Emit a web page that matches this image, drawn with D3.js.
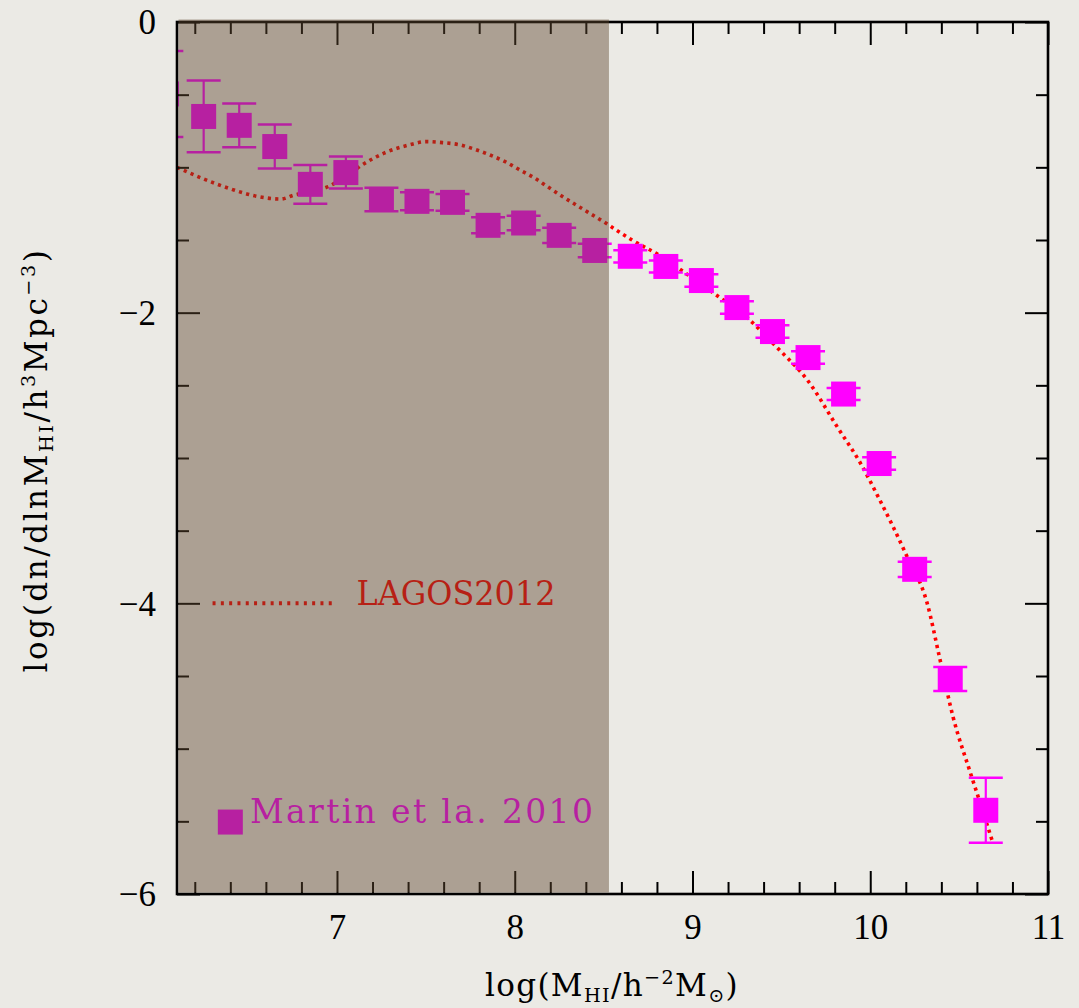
<!DOCTYPE html>
<html>
<head>
<meta charset="utf-8">
<script src="https://cdn.jsdelivr.net/npm/d3@7"></script>
<style>
  html, body { margin: 0; padding: 0; background: #ebeae5; }
  svg { display: block; }
</style>
</head>
<body>
<div id="chart"></div>
<script>
// HI mass function data (Martin et al. 2010)
const massBins = [6.04, 6.25, 6.45, 6.65, 6.85, 7.05, 7.25, 7.45, 7.65, 7.85, 8.05, 8.25,
                  8.45, 8.65, 8.85, 9.05, 9.25, 9.45, 9.65, 9.85, 10.05, 10.25, 10.45, 10.65];
const logPhi = [-0.495, -0.650, -0.711, -0.857, -1.117, -1.036, -1.221, -1.234, -1.241, -1.399, -1.383, -1.468,
                -1.572, -1.612, -1.682, -1.779, -1.965, -2.130, -2.309, -2.560, -3.038, -3.766, -4.521, -5.424];
const logPhiErr = [0.296, 0.247, 0.151, 0.151, 0.133, 0.110, 0.081, 0.062, 0.057, 0.055, 0.050, 0.053,
                   0.047, 0.042, 0.041, 0.043, 0.043, 0.043, 0.043, 0.041, 0.043, 0.052, 0.083, 0.224];

// LAGOS2012 model curve
const lagosMass = [6.10, 6.25, 6.42, 6.55, 6.685, 6.76, 6.86, 6.95, 7.06, 7.15, 7.275, 7.406, 7.50, 7.594,
                   7.687, 7.771, 7.861, 7.946, 8.028, 8.108, 8.187, 8.264, 8.343, 8.423, 8.502, 8.577, 8.66,
                   8.82, 9.006, 9.118, 9.309, 9.478, 9.646, 9.815, 9.944, 10.045, 10.208, 10.32, 10.393,
                   10.466, 10.562, 10.635, 10.69];
const lagosPhi = [-1.00, -1.08, -1.156, -1.20, -1.218, -1.19, -1.168, -1.133, -1.053, -0.977, -0.897, -0.846,
                  -0.823, -0.830, -0.844, -0.874, -0.915, -0.961, -1.018, -1.071, -1.135, -1.197, -1.257,
                  -1.317, -1.376, -1.436, -1.50, -1.61, -1.768, -1.865, -2.037, -2.243, -2.463, -2.787,
                  -3.034, -3.268, -3.681, -3.998, -4.39, -4.782, -5.161, -5.436, -5.649];

// axes
const xDomain = [6.1, 11];
const yDomain = [0, -6];
const xMajorTicks = [7, 8, 9, 10, 11];
const yMajorTicks = [0, -2, -4, -6];
const shadeLimit = 8.53;   // mass resolution limit of the model

// legend entries
const legendNames = ["LAGOS2012", "Martin et la. 2010"];

const width = 1079, height = 1008;
const margin = { top: 22, right: 31, bottom: 114, left: 177 };

const svg = d3.select("#chart").append("svg")
    .attr("width", width)
    .attr("height", height);

svg.append("rect")
    .attr("width", width).attr("height", height)
    .attr("fill", "#ebeae5");

const x = d3.scaleLinear().domain(xDomain).range([margin.left, width - margin.right]);
const y = d3.scaleLinear().domain(yDomain).range([margin.top, height - margin.bottom]);

svg.append("clipPath").attr("id", "plotClip")
    .append("rect")
    .attr("x", margin.left).attr("y", margin.top)
    .attr("width", width - margin.left - margin.right)
    .attr("height", height - margin.top - margin.bottom);

const plot = svg.append("g").attr("clip-path", "url(#plotClip)");

//model curve
const magenta = "#ff00ff";
const red = "#ff0000";
const lagosLine = d3.line()
    .x(d => x(d[0]))
    .y(d => y(d[1]))
    .curve(d3.curveMonotoneX);

plot.append("path")
    .datum(d3.zip(lagosMass, lagosPhi))
    .attr("d", lagosLine)
    .attr("fill", "none")
    .attr("stroke", red)
    .attr("stroke-width", 3.6)
    .attr("stroke-dasharray", "3.2,4.2");

//data points with error bars
const pts = massBins.map((m, i) => ({ m: m, v: logPhi[i], e: logPhiErr[i] }));
const sq = 25, capHalf = 17;

const pg = plot.selectAll("g.pt").data(pts).join("g").attr("class", "pt");
pg.append("line")
    .attr("x1", d => x(d.m)).attr("x2", d => x(d.m))
    .attr("y1", d => y(d.v + d.e)).attr("y2", d => y(d.v - d.e))
    .attr("stroke", magenta).attr("stroke-width", 2.2);
pg.selectAll("line.cap")
    .data(d => [[d.m, d.v + d.e], [d.m, d.v - d.e]])
    .join("line").attr("class", "cap")
    .attr("x1", d => x(d[0]) - capHalf).attr("x2", d => x(d[0]) + capHalf)
    .attr("y1", d => y(d[1])).attr("y2", d => y(d[1]))
    .attr("stroke", magenta).attr("stroke-width", 2.5);
pg.append("rect")
    .attr("x", d => x(d.m) - sq / 2).attr("y", d => y(d.v) - sq / 2)
    .attr("width", sq).attr("height", sq)
    .attr("fill", magenta);

//legend
const legendFont = "'DejaVu Serif', serif";
svg.append("line")
    .attr("x1", x(6.30)).attr("x2", x(7.0))
    .attr("y1", y(-4)).attr("y2", y(-4))
    .attr("stroke", red).attr("stroke-width", 4)
    .attr("stroke-dasharray", "3,5.3");
svg.append("text")
    .attr("x", x(7.11)).attr("y", y(-4) + 2)
    .attr("font-family", legendFont).attr("font-size", 33)
    .attr("fill", red)
    .attr("textLength", 199).attr("lengthAdjust", "spacingAndGlyphs")
    .text(legendNames[0]);

svg.append("rect")
    .attr("x", x(6.40) - sq / 2).attr("y", y(-5.505) - sq / 2)
    .attr("width", sq).attr("height", sq)
    .attr("fill", magenta);
svg.append("text")
    .attr("x", x(6.51)).attr("y", y(-5.505) + 1)
    .attr("font-family", legendFont).attr("font-size", 33)
    .attr("fill", magenta)
    .attr("textLength", 343).attr("lengthAdjust", "spacing")
    .text(legendNames[1]);

//axes - ticks point inward on all four sides
const tickFont = "'Liberation Serif', 'Times New Roman', serif";
const xMinor = d3.range(62, 111, 2).map(v => v / 10).filter(v => !xMajorTicks.includes(v));
const yMinor = d3.range(-11, 0, 1).map(v => v / 2).filter(v => !yMajorTicks.includes(v));

function drawAxis(axisFn, scale, transform, major, minor, labels) {
    const gMaj = svg.append("g").attr("transform", transform)
        .call(axisFn(scale).tickValues(major).tickSizeInner(-23).tickSizeOuter(0)
            .tickFormat(labels ? d3.format("") : ""));
    const gMin = svg.append("g").attr("transform", transform)
        .call(axisFn(scale).tickValues(minor).tickSizeInner(-12).tickSizeOuter(0).tickFormat(""));
    [gMaj, gMin].forEach(g => {
        g.select(".domain").remove();
        g.selectAll(".tick line").attr("stroke", "#000").attr("stroke-width", 2);
    });
    return gMaj;
}

const xb = drawAxis(d3.axisBottom, x, `translate(0,${y(-6)})`, xMajorTicks, xMinor, true);
drawAxis(d3.axisTop, x, `translate(0,${y(0)})`, xMajorTicks, xMinor, false);
const yl = drawAxis(d3.axisLeft, y, `translate(${x(6.1)},0)`, yMajorTicks, yMinor, true);
drawAxis(d3.axisRight, y, `translate(${x(11)},0)`, yMajorTicks, yMinor, false);

xb.selectAll(".tick text")
    .attr("font-family", tickFont).attr("font-size", 35).attr("fill", "#000")
    .attr("y", 0).attr("dy", 0)
    .attr("transform", "translate(0,45)");
yl.selectAll(".tick text")
    .attr("font-family", tickFont).attr("font-size", 35).attr("fill", "#000")
    .attr("x", -21).attr("dy", "0.34em");

svg.append("rect")
    .attr("x", margin.left).attr("y", margin.top)
    .attr("width", width - margin.left - margin.right)
    .attr("height", height - margin.top - margin.bottom)
    .attr("fill", "none").attr("stroke", "#000").attr("stroke-width", 2.6);

//shaded region below the model resolution limit, laid over everything
svg.append("rect")
    .attr("x", x(6.1) + 1.5).attr("y", y(0) - 2.5)
    .attr("width", x(shadeLimit) - x(6.1) - 1.5)
    .attr("height", y(-6) - y(0) + 1)
    .attr("fill", "rgb(96,70,46)")
    .attr("fill-opacity", 0.45);

//axis titles with sub/superscripts
const labelFont = "'DejaVu Serif', serif";
function richText(sel, parts, size) {
    let shift = 0;
    parts.forEach(p => {
        const t = sel.append("tspan").text(p.t);
        let target = 0;
        if (p.s === "sub") target = size * 0.2;
        if (p.s === "sup") target = -size * 0.38;
        t.attr("font-size", p.s ? size * 0.62 : size)
         .attr("dy", target - shift);
        shift = target;
    });
}
//keep the font size, adjust letter spacing until the title has the wanted width
function spreadToWidth(sel, parts, size, target) {
    richText(sel, parts, size);
    const w = sel.node().getComputedTextLength();
    const n = parts.reduce((a, p) => a + p.t.length, 0);
    sel.attr("letter-spacing", (target - w) / n);
}

const xTitle = svg.append("text")
    .attr("x", 612).attr("y", 996)
    .attr("text-anchor", "middle")
    .attr("font-family", labelFont).attr("font-weight", 300).attr("fill", "#000");
spreadToWidth(xTitle, [
    { t: "log(M" }, { t: "HI", s: "sub" }, { t: "/h" }, { t: "−2", s: "sup" },
    { t: "M" }, { t: "⊙", s: "sub" }, { t: ")" }
], 31, 254);

const yTitle = svg.append("text")
    .attr("transform", "translate(47,460) rotate(-90)")
    .attr("text-anchor", "middle")
    .attr("font-family", labelFont).attr("font-weight", 300).attr("fill", "#000");
spreadToWidth(yTitle, [
    { t: "log(dn/dlnM" }, { t: "HI", s: "sub" }, { t: "/h" }, { t: "3", s: "sup" },
    { t: "Mpc" }, { t: "−3", s: "sup" }, { t: ")" }
], 31, 425);
</script>
</body>
</html>
